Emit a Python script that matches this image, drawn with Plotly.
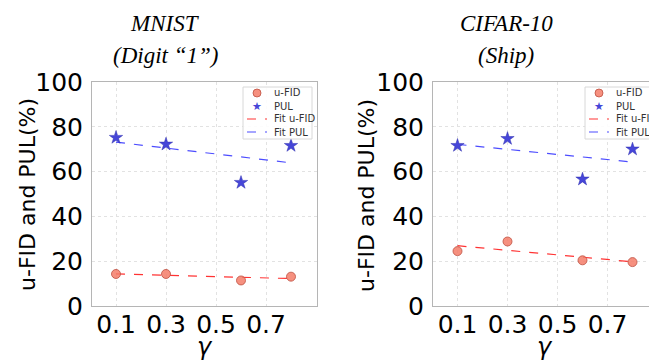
import numpy as np
import plotly.graph_objects as go

# ---- data ----
gamma = [0.1, 0.3, 0.6, 0.8]
x_ticks = [0.1, 0.3, 0.5, 0.7]
y_ticks = [0, 20, 40, 60, 80, 100]

mnist_ufid = [14.3, 14.3, 11.4, 13.1]
mnist_pul = [75.2, 72.2, 55.1, 71.6]
cifar_ufid = [24.5, 28.8, 20.4, 19.6]
cifar_pul = [71.6, 74.7, 56.6, 70.0]

titles = [("MNIST", "(Digit “1”)"), ("CIFAR-10", "(Ship)")]
legend_names = ["u-FID", "PUL", "Fit u-FID", "Fit PUL"]

W, H = 649, 360
fig = go.Figure()

UFID_FILL = "rgba(245,125,105,0.85)"
UFID_EDGE = "rgba(190,80,65,0.8)"
PUL_COL = "#4646d8"
FITU_COL = "rgba(255,0,0,0.8)"
FITP_COL = "rgba(0,0,255,0.7)"

panels = [
    dict(ufid=mnist_ufid, pul=mnist_pul, xa="x", ya="y"),
    dict(ufid=cifar_ufid, pul=cifar_pul, xa="x2", ya="y2"),
]

g = np.array(gamma)
for p in panels:
    fit_u = np.polyval(np.polyfit(g, p["ufid"], 1), g)
    fit_p = np.polyval(np.polyfit(g, p["pul"], 1), g)
    fig.add_trace(go.Scatter(x=gamma, y=fit_u, mode="lines", name="Fit u-FID",
                             line=dict(color=FITU_COL, width=1.2, dash="dash"),
                             xaxis=p["xa"], yaxis=p["ya"], showlegend=False))
    fig.add_trace(go.Scatter(x=gamma, y=fit_p, mode="lines", name="Fit PUL",
                             line=dict(color=FITP_COL, width=1.2, dash="dash"),
                             xaxis=p["xa"], yaxis=p["ya"], showlegend=False))
    fig.add_trace(go.Scatter(x=gamma, y=p["ufid"], mode="markers", name="u-FID",
                             marker=dict(symbol="circle", size=9, color=UFID_FILL,
                                         line=dict(color=UFID_EDGE, width=1)),
                             xaxis=p["xa"], yaxis=p["ya"], showlegend=False))
    fig.add_trace(go.Scatter(x=gamma, y=p["pul"], mode="markers", name="PUL",
                             marker=dict(symbol="star", size=10, color=PUL_COL,
                                         line=dict(color="#3030b0", width=0.5)),
                             xaxis=p["xa"], yaxis=p["ya"], showlegend=False))

# pixel helpers
def px_x(v):
    return v / W

def px_y(v):
    return 1 - v / H

tickfont = dict(family="DejaVu Sans", size=25, color="black")
xcommon = dict(tickvals=x_ticks, ticktext=[str(t) for t in x_ticks], tickfont=tickfont,
               showgrid=True, gridcolor="#e2e2e2", griddash="dot", gridwidth=1,
               showline=True, linecolor="#b5b5b5", linewidth=1, mirror=True,
               ticks="", zeroline=False, automargin=False, ticklabelstandoff=-4)
ycommon = dict(range=[0, 100], tickvals=y_ticks, tickfont=tickfont,
               showgrid=True, gridcolor="#e2e2e2", griddash="dot", gridwidth=1,
               showline=True, linecolor="#b5b5b5", linewidth=1,
               ticks="", zeroline=False, ticklabelstandoff=3, automargin=False)

ydom = [px_y(306), px_y(82)]
fig.update_layout(
    xaxis=dict(domain=[px_x(92), px_x(317)], range=[0.004, 0.904], anchor="y", **xcommon),
    yaxis=dict(domain=ydom, anchor="x", mirror=True, **ycommon),
    xaxis2=dict(domain=[px_x(433), 1.0], range=[0.002, 0.866], anchor="y2", **xcommon),
    yaxis2=dict(domain=ydom, anchor="x2", mirror=False, **ycommon),
)

annotations = []
shapes = []

# ---- hand-drawn legends (box, symbols, labels) ----
leg_left = [243, 585]
row_y = [93, 106, 119, 132]
for i in range(2):
    L = leg_left[i]
    shapes.append(dict(type="rect", xref="paper", yref="paper",
                       x0=px_x(L), x1=px_x(L + 69), y0=px_y(139), y1=px_y(87),
                       line=dict(color="#d8d8d8", width=1), fillcolor="rgba(255,255,255,0.9)",
                       layer="above"))
    sx = L + 14
    shapes.append(dict(type="circle", xref="paper", yref="paper",
                       x0=px_x(sx - 4), x1=px_x(sx + 4), y0=px_y(row_y[0] + 4), y1=px_y(row_y[0] - 4),
                       fillcolor=UFID_FILL, line=dict(color=UFID_EDGE, width=1), layer="above"))
    annotations.append(dict(text="★", x=px_x(sx), y=px_y(row_y[1]), xref="paper", yref="paper",
                            showarrow=False, xanchor="center", yanchor="middle",
                            font=dict(family="DejaVu Sans", size=11, color=PUL_COL)))
    for r, col in ((2, FITU_COL), (3, FITP_COL)):
        shapes.append(dict(type="line", xref="paper", yref="paper",
                           x0=px_x(L + 4), x1=px_x(L + 24), y0=px_y(row_y[r]), y1=px_y(row_y[r]),
                           line=dict(color=col, width=1.2, dash="dash"), layer="above"))
    for r, name in enumerate(legend_names):
        annotations.append(dict(text=name, x=px_x(L + 29), y=px_y(row_y[r]), xref="paper", yref="paper",
                                showarrow=False, xanchor="left", yanchor="middle",
                                font=dict(family="DejaVu Sans", size=10, color="#333")))

title_cx = [165, 506]
ylab_cx = [27, 366]
for i in range(2):
    l1, l2 = titles[i]
    annotations.append(dict(text=f"<i>{l1}</i>", x=px_x(title_cx[i]), y=px_y(23),
                            xref="paper", yref="paper", showarrow=False,
                            xanchor="center", yanchor="middle",
                            font=dict(family="Liberation Serif", size=23, color="black")))
    annotations.append(dict(text=f"<i>{l2}</i>", x=px_x(title_cx[i]), y=px_y(55),
                            xref="paper", yref="paper", showarrow=False,
                            xanchor="center", yanchor="middle",
                            font=dict(family="Liberation Serif", size=23, color="black")))
    annotations.append(dict(text="u-FID and PUL(%)", x=px_x(ylab_cx[i]), y=px_y(195),
                            xref="paper", yref="paper", showarrow=False, textangle=-90,
                            xanchor="center", yanchor="middle",
                            font=dict(family="DejaVu Sans", size=22, color="black")))
    annotations.append(dict(text="<i>γ</i>", x=px_x([205, 545][i]), y=px_y(331),
                            xref="paper", yref="paper", showarrow=False,
                            xanchor="center", yanchor="top",
                            font=dict(family="DejaVu Sans", size=24, color="black")))

fig.update_layout(annotations=annotations, shapes=shapes, width=W, height=H,
                  margin=dict(l=0, r=0, t=0, b=0),
                  paper_bgcolor="white", plot_bgcolor="white", showlegend=False)

fig.write_html("out.html", config={"displayModeBar": False},
               post_script="document.body.style.margin='0';document.body.style.overflow='hidden';")
